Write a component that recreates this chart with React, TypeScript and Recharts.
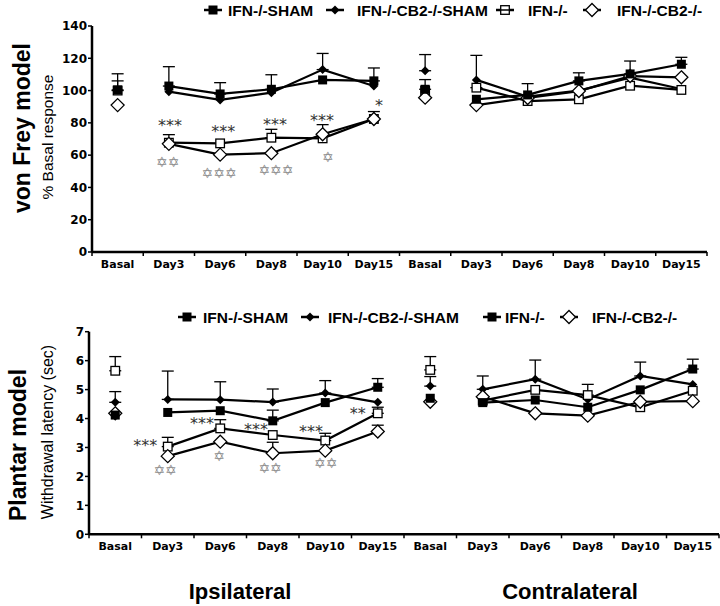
import React from "react";
import { ComposedChart, Line, XAxis, YAxis, ErrorBar, ReferenceDot } from "recharts";

const categories = ["Basal", "Day3", "Day6", "Day8", "Day10", "Day15", "Basal", "Day3", "Day6", "Day8", "Day10", "Day15"];

// von Frey model (% basal response)
const vfSham = [100.4, 102.8, 97.9, 100.8, 106.6, 106, 100.8, 94.6, 97.3, 106, 110.3, 116.3];
const vfShamErr = [10, 12, 7, 9, null, 8, 6, null, 7, 5, 8, 4.3];
const vfCb2Sham = [100, 99.3, 94.2, 98.7, 113, 102.8, 112.3, 106.6, 96.2, 100, 108, 101];
const vfCb2ShamErr = [6, null, null, null, 10, null, 10, null, null, null, null, null];
const vfIfn = [100, 67.7, 67.3, 70.8, 70.4, 82.4, 100, 101.8, 93.5, 94.6, 103, 100.4];
const vfIfnErr = [null, 5, null, 5.2, null, 4.6, null, 20, null, null, null, null];
const vfCb2 = [91, 67, 60.3, 61.2, 72.9, 82.4, 95.6, 91, 95.4, 99.7, 109, 108.2];
const vfCb2Err = [null, null, null, null, 6, null, null, null, null, null, null, null];
const vfTicks = [0, 20, 40, 60, 80, 100, 120, 140];

// Plantar model (withdrawal latency, sec)
const plSham = [4.12, 4.21, 4.27, 3.92, 4.55, 5.08, 4.7, 4.55, 4.64, 4.39, 4.99, 5.71];
const plShamErr = [null, null, null, 0.37, null, 0.3, null, null, null, null, null, 0.34];
const plCb2Sham = [4.56, 4.66, 4.65, 4.57, 4.88, 4.56, 5.12, 5.01, 5.36, 4.66, 5.47, 5.18];
const plCb2ShamErr = [0.37, 0.98, 0.62, 0.45, 0.43, null, 0.33, 0.46, 0.66, null, 0.48, null];
const plIfn = [5.65, 3.03, 3.66, 3.43, 3.24, 4.18, 5.68, 4.62, 4.99, 4.81, 4.39, 4.96];
const plIfnErr = [0.49, 0.32, 0.3, null, 0.25, 0.21, 0.46, null, null, 0.37, null, null];
const plCb2 = [4.18, 2.7, 3.2, 2.8, 2.89, 3.55, 4.58, 4.75, 4.18, 4.1, 4.58, 4.6];
const plCb2Err = [null, null, null, 0.38, null, 0.22, null, null, null, null, null, null];
const plTicks = [0, 1, 2, 3, 4, 5, 6, 7];

// significance marks: x in category units (0..12), y in data units
const vfMarks = [
  { x: 1.52, y: 81, t: "***" },
  { x: 2.56, y: 77, t: "***" },
  { x: 3.57, y: 81.4, t: "***" },
  { x: 4.49, y: 84, t: "***" },
  { x: 5.6, y: 93, t: "*" },
];
const vfStars = [
  { x: 1.48, y: 56, t: "✡✡" },
  { x: 2.48, y: 49, t: "✡✡✡" },
  { x: 3.59, y: 51, t: "✡✡✡" },
  { x: 4.6, y: 59, t: "✡" },
];
const plMarks = [
  { x: 1.07, y: 3.2, t: "***" },
  { x: 2.15, y: 3.95, t: "***" },
  { x: 3.18, y: 3.74, t: "***" },
  { x: 4.23, y: 3.68, t: "***" },
  { x: 5.12, y: 4.32, t: "**" },
];
const plStars = [
  { x: 1.45, y: 2.22, t: "✡✡" },
  { x: 2.48, y: 2.7, t: "✡" },
  { x: 3.45, y: 2.28, t: "✡✡" },
  { x: 4.51, y: 2.47, t: "✡✡" },
];

const seriesNames = ["IFN-/-SHAM", "IFN-/-CB2-/-SHAM", "IFN-/-", "IFN-/-CB2-/-"];
const seriesKeys = ["sham", "cb2Sham", "ifn", "cb2"];
const seriesShapes = ["fsquare", "fdiamond", "osquare", "odiamond"];
const bottomLegendShapes = ["fsquare", "fdiamond", "fsquare", "odiamond"];
// drawing order (bottom to top)
const drawOrder = [1, 2, 3, 0];

type Num = number | null;

function buildRows(vals: Num[][], errs: Num[][]) {
  return categories.map((c, i) => {
    const row: any = { x: i + 0.5, cat: c };
    seriesKeys.forEach((k, s) => {
      const v = vals[s][i];
      const e = errs[s][i];
      row[k] = v;
      row[k + "L"] = c === "Basal" ? null : v;
      row[k + "E"] = e == null ? null : [0, e];
    });
    return row;
  });
}

const vfRows = buildRows([vfSham, vfCb2Sham, vfIfn, vfCb2], [vfShamErr, vfCb2ShamErr, vfIfnErr, vfCb2Err]);
const plRows = buildRows([plSham, plCb2Sham, plIfn, plCb2], [plShamErr, plCb2ShamErr, plIfnErr, plCb2Err]);

function marker(kind: string, cx: number, cy: number, key?: string) {
  switch (kind) {
    case "fsquare":
      return <rect key={key} x={cx - 4.5} y={cy - 4.5} width={9} height={9} fill="#000" />;
    case "osquare":
      return <rect key={key} x={cx - 4.3} y={cy - 4.3} width={8.6} height={8.6} fill="#fff" stroke="#000" strokeWidth={1.3} />;
    case "fdiamond":
      return <polygon key={key} points={`${cx},${cy - 4.5} ${cx + 4.5},${cy} ${cx},${cy + 4.5} ${cx - 4.5},${cy}`} fill="#000" />;
    default:
      return (
        <polygon
          key={key}
          points={`${cx},${cy - 6.5} ${cx + 6.5},${cy} ${cx},${cy + 6.5} ${cx - 6.5},${cy}`}
          fill="#fff"
          stroke="#000"
          strokeWidth={1.3}
        />
      );
  }
}

const makeDot = (kind: string) => (p: any) => {
  const k = `d-${kind}-${p.index}`;
  if (p.cx == null || p.cy == null || p.value == null) return <g key={k} />;
  return marker(kind, p.cx, p.cy, k);
};

const makeXTick = (band: number) => (p: any) => {
  const i = p.payload.value;
  if (i >= 12) return <g />;
  return (
    <text
      x={p.x + band / 2}
      y={p.y}
      dy="0.71em"
      textAnchor="middle"
      fontFamily="DejaVu Sans"
      fontWeight="bold"
      fontSize={11}
      fill="#000"
    >
      {categories[i]}
    </text>
  );
};

const textShape = (t: string, kind: "ast" | "star") => (p: any) => (
  <text
    x={p.cx}
    y={p.cy}
    dy={kind === "ast" ? "0.58em" : "0.36em"}
    textAnchor="middle"
    fontFamily="DejaVu Sans"
    fontSize={kind === "ast" ? 16 : 14}
    fill={kind === "ast" ? "#333" : "#8c8c8c"}
  >
    {t}
  </text>
);

type PanelProps = {
  rows: any[];
  ticks: number[];
  top: number;
  height: number;
  margin: { top: number; right: number; bottom: number; left: number };
  yWidth: number;
  marks: { x: number; y: number; t: string }[];
  stars: { x: number; y: number; t: string }[];
};

function Panel({ rows, ticks, top, height, margin, yWidth, marks, stars }: PanelProps) {
  const band = (720 - yWidth - margin.right - margin.left) / 12;
  const axisLine = { stroke: "#000", strokeWidth: 2.5 };
  return (
    <div style={{ position: "absolute", left: 0, top }}>
      <ComposedChart width={720} height={height} data={rows} margin={margin}>
        <XAxis
          type="number"
          dataKey="x"
          domain={[0, 12]}
          ticks={[0, 1, 2, 3, 4, 5, 6, 7, 8, 9, 10, 11, 12]}
          interval={0}
          height={20}
          tickSize={4}
          tickMargin={4}
          axisLine={axisLine}
          tickLine={{ stroke: "#000", strokeWidth: 1.5 }}
          tick={makeXTick(band)}
        />
        <YAxis
          type="number"
          domain={[ticks[0], ticks[ticks.length - 1]]}
          ticks={ticks}
          interval={0}
          width={yWidth}
          tickSize={4}
          tickMargin={1}
          axisLine={axisLine}
          tickLine={{ stroke: "#000", strokeWidth: 1.5 }}
          tick={{ fill: "#000", fontFamily: "DejaVu Sans", fontWeight: "bold", fontSize: 12 }}
        />
        {drawOrder.map((s) => (
          <Line
            key={seriesKeys[s] + "L"}
            dataKey={seriesKeys[s] + "L"}
            stroke="#000"
            strokeWidth={2.2}
            dot={false}
            activeDot={false}
            isAnimationActive={false}
          />
        ))}
        {drawOrder.map((s) => (
          <Line
            key={seriesKeys[s]}
            dataKey={seriesKeys[s]}
            stroke="none"
            dot={makeDot(seriesShapes[s])}
            activeDot={false}
            isAnimationActive={false}
          >
            <ErrorBar dataKey={seriesKeys[s] + "E"} direction="y" width={6} stroke="#000" strokeWidth={1.3} />
          </Line>
        ))}
        {marks.map((m, i) => (
          <ReferenceDot key={"m" + i} x={m.x} y={m.y} r={0} shape={textShape(m.t, "ast")} />
        ))}
        {stars.map((m, i) => (
          <ReferenceDot key={"s" + i} x={m.x} y={m.y} r={0} shape={textShape(m.t, "star")} />
        ))}
      </ComposedChart>
    </div>
  );
}

function LegendRow({ y, markers, shapes, texts }: { y: number; markers: number[]; shapes: string[]; texts: number[] }) {
  return (
    <g>
      {seriesNames.map((n, i) => (
        <g key={n}>
          <line x1={markers[i] - 9} x2={markers[i] + 9} y1={y} y2={y} stroke="#000" strokeWidth={2.5} />
          {marker(shapes[i], markers[i], y)}
          {shapes[i] === "osquare" && <line x1={markers[i] - 9} x2={markers[i] + 9} y1={y} y2={y} stroke="#000" strokeWidth={1.5} />}
          <text
            x={texts[i]}
            y={y}
            dominantBaseline="central"
            fontFamily="Liberation Sans"
            fontWeight="bold"
            fontSize={15.5}
            fill="#000"
          >
            {n}
          </text>
        </g>
      ))}
    </g>
  );
}

export default function App() {
  const sans = "Liberation Sans";
  return (
    <div style={{ position: "absolute", left: 0, top: 0, width: 720, height: 606, background: "#fff", overflow: "hidden" }}>
      <Panel
        rows={vfRows}
        ticks={vfTicks}
        top={0}
        height={280}
        margin={{ top: 26, right: 13, bottom: 8, left: 0 }}
        yWidth={92}
        marks={vfMarks}
        stars={vfStars}
      />
      <Panel
        rows={plRows}
        ticks={plTicks}
        top={290}
        height={280}
        margin={{ top: 41.7, right: 1, bottom: 15.7, left: 0 }}
        yWidth={89}
        marks={plMarks}
        stars={plStars}
      />
      <svg width={720} height={606} style={{ position: "absolute", left: 0, top: 0, pointerEvents: "none" }}>
        <LegendRow y={10} markers={[213, 335, 505, 592]} shapes={seriesShapes} texts={[228, 357, 528, 617]} />
        <LegendRow y={317} markers={[187, 310, 492, 569]} shapes={bottomLegendShapes} texts={[203, 328, 505, 592]} />
        <text transform="translate(22,128) rotate(-90)" textAnchor="middle" dominantBaseline="central" fontFamily={sans} fontWeight="bold" fontSize={23}>
          von Frey model
        </text>
        <text transform="translate(47,137) rotate(-90)" textAnchor="middle" dominantBaseline="central" fontFamily={sans} fontSize={15.5}>
          % Basal response
        </text>
        <text transform="translate(18,445) rotate(-90)" textAnchor="middle" dominantBaseline="central" fontFamily={sans} fontWeight="bold" fontSize={23}>
          Plantar model
        </text>
        <text transform="translate(47,432) rotate(-90)" textAnchor="middle" dominantBaseline="central" fontFamily={sans} fontSize={16}>
          Withdrawal latency (sec)
        </text>
        <text x={240} y={591} textAnchor="middle" dominantBaseline="central" fontFamily={sans} fontWeight="bold" fontSize={22}>
          Ipsilateral
        </text>
        <text x={570} y={591} textAnchor="middle" dominantBaseline="central" fontFamily={sans} fontWeight="bold" fontSize={22}>
          Contralateral
        </text>
      </svg>
    </div>
  );
}
